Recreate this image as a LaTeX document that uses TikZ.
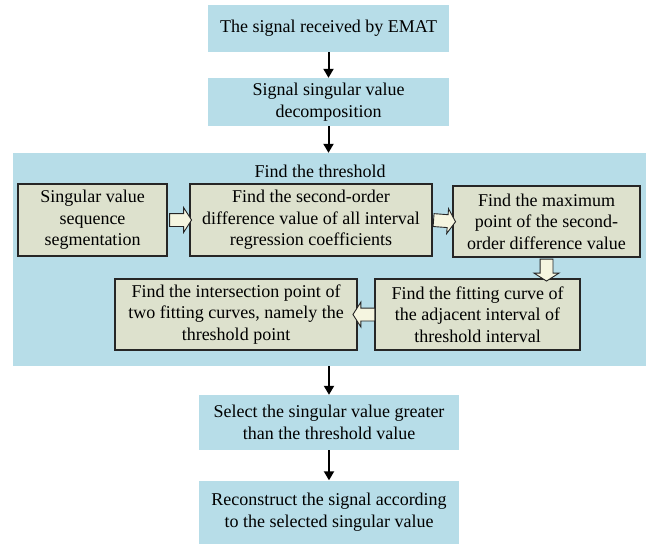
\documentclass[tikz,border=0pt]{standalone}
\usepackage{fontspec}
\setmainfont{Liberation Serif}
\usetikzlibrary{arrows.meta, positioning, shapes.arrows}
\definecolor{paleblue}{HTML}{B7DDE8}
\definecolor{olivegray}{HTML}{DDE1CD}
\definecolor{cream}{HTML}{F5F5E0}
\definecolor{edgegray}{HTML}{262626}

\begin{document}
\begin{tikzpicture}[x=1pt, y=-1pt, >={Triangle[length=9pt, width=10pt]},
  font=\fontsize{18}{21.5}\selectfont,
  mainbox/.style={fill=paleblue, draw=none, align=center, inner sep=0pt},
  subbox/.style={fill=olivegray, draw=edgegray, line width=1.1pt, align=center, inner sep=0pt,
    minimum height=71pt},
  flowarrow/.style={->, line width=2pt, black},
  hollowarrow/.style={single arrow, draw=edgegray, fill=cream, line width=0.9pt,
    inner sep=6pt, single arrow head extend=6pt, single arrow tip angle=115,
    minimum height=22pt, midway, sloped, allow upside down}]

\useasboundingbox (0,0) rectangle (648,544);

% Top boxes
\node[mainbox, minimum width=241pt, minimum height=47pt] (recv) at (328.5,28.5)
  {The signal received by EMAT};
\node[mainbox, minimum width=241pt, minimum height=48pt] (svd) at (328.5,102)
  {Signal singular value\\decomposition};

% Threshold panel
\node[mainbox, minimum width=633pt, minimum height=213pt] (panel) at (329.5,259.5) {};
\node[inner sep=0pt] (title) at (320,171) {Find the threshold};

% First row
\node[subbox, minimum width=149pt, minimum height=72pt] (seg) at (92.5,220)
  {Singular value\\sequence\\segmentation};
\node[subbox, minimum width=242pt, minimum height=72pt] (diff) at (311,220)
  {Find the second-order\\difference value of all interval\\regression coefficients};
\node[subbox, minimum width=187pt] (maxpt) at (546.5,221.5)
  {Find the maximum\\point of the second-\\order difference value};

% Second row
\node[subbox, minimum width=205pt] (fitcurve) at (477.5,314.5)
  {Find the fitting curve of\\the adjacent interval of\\threshold interval};
\node[subbox, minimum width=242pt] (cross) at (236,314.5)
  {Find the intersection point of\\two fitting curves, namely the\\threshold point};

% Bottom boxes
\node[mainbox, minimum width=260pt, minimum height=55pt] (select) at (329,422.5)
  {Select the singular value greater\\than the threshold value};
\node[mainbox, minimum width=260pt, minimum height=63pt] (rebuild) at (329,512)
  {Reconstruct the signal according\\to the selected singular value};

% Main flow
\draw[flowarrow] (recv) -- (svd);
\draw[flowarrow] (svd.south) -- (svd.south |- panel.north);
\draw[flowarrow] (select.north |- panel.south) -- (select.north);
\draw[flowarrow] (select) -- (rebuild);

% Hollow arrows inside the panel
\path (seg.east) -- (diff.west) node[hollowarrow] {};
\path (diff.east) -- (maxpt.west) node[hollowarrow] {};
\path (maxpt.south) -- (maxpt.south |- fitcurve.north) node[hollowarrow] {};
\path (fitcurve.west) -- (cross.east) node[hollowarrow] {};

\end{tikzpicture}
\end{document}
